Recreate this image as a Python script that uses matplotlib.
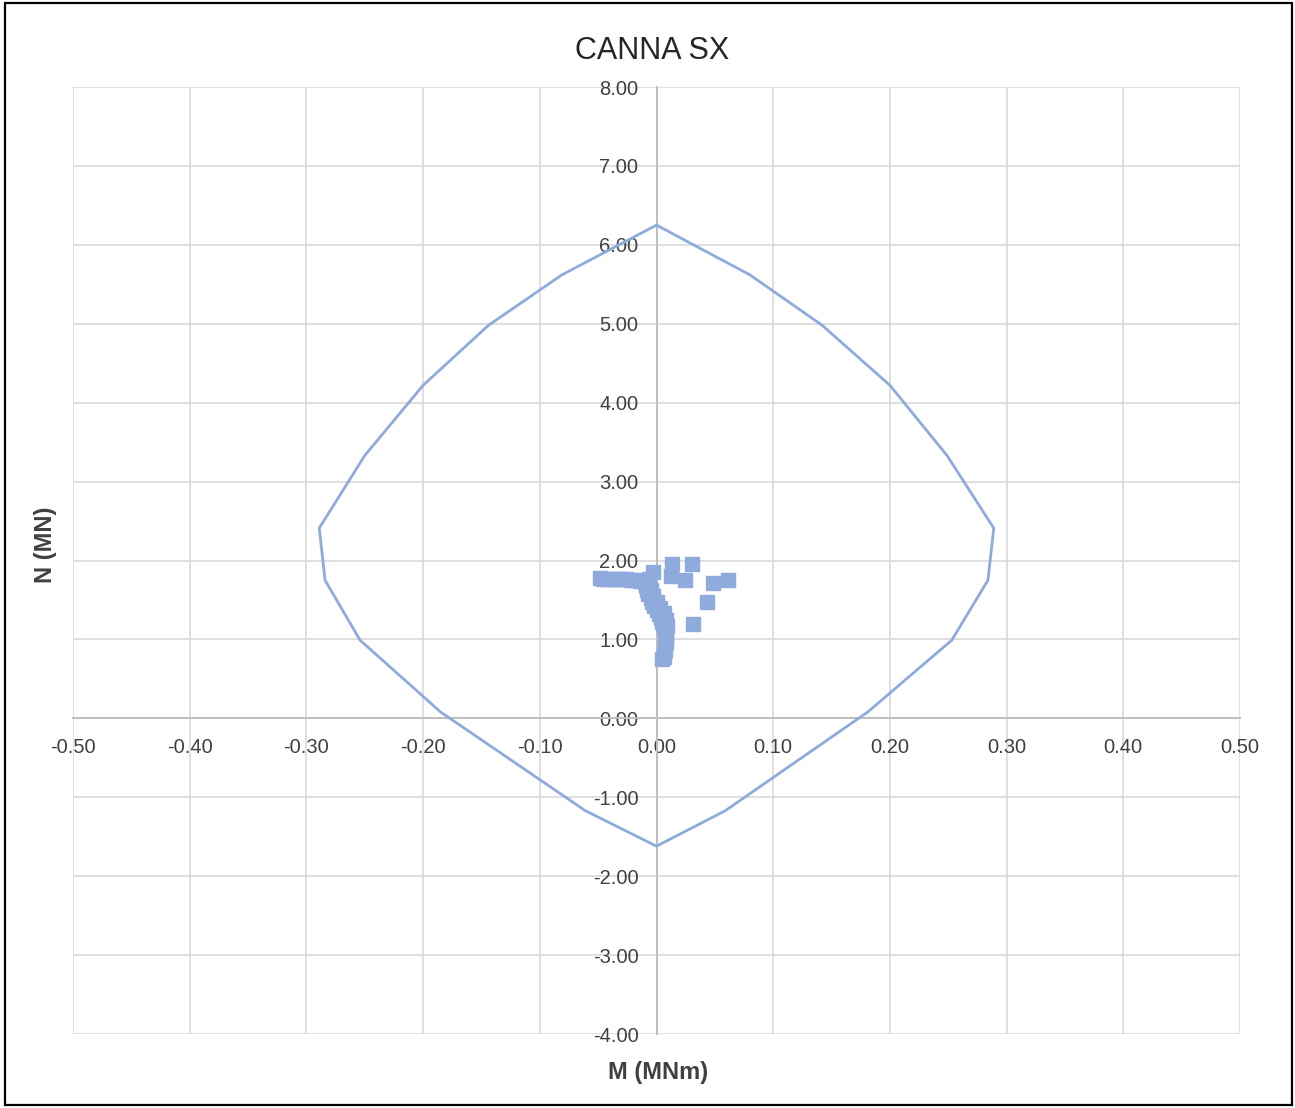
import matplotlib.pyplot as plt
from matplotlib.patches import Rectangle

# interaction domain envelope (M, N)
env_m = [0.0, 0.080, 0.142, 0.200, 0.249, 0.289, 0.284, 0.253, 0.181, 0.059, 0.0,
         -0.061, -0.185, -0.254, -0.284, -0.289, -0.250, -0.200, -0.144, -0.081, 0.0]
env_n = [6.25, 5.62, 4.98, 4.22, 3.33, 2.41, 1.75, 0.99, 0.08, -1.17, -1.62,
         -1.17, 0.08, 0.99, 1.75, 2.41, 3.33, 4.22, 4.98, 5.62, 6.25]

# load combinations (M, N)
pts_m = [-0.048, -0.046, -0.042, -0.038, -0.034, -0.030, -0.026, -0.022, -0.018, -0.014,
         -0.010, -0.006, -0.003,
         -0.009, -0.008, -0.007, -0.005, -0.004, -0.002, 0.000, 0.002, 0.004, 0.005,
         0.006, 0.007, 0.008, 0.008, 0.008, 0.007, 0.007, 0.006, 0.006, 0.005,
         -0.005, -0.003, 0.000, 0.003, 0.006, 0.008, 0.009,
         0.013, 0.030, 0.012, 0.024, 0.048, 0.061, 0.043, 0.031]
pts_n = [1.78, 1.77, 1.77, 1.77, 1.76, 1.76, 1.76, 1.75, 1.75, 1.74,
         1.73, 1.76, 1.86,
         1.68, 1.62, 1.57, 1.52, 1.47, 1.42, 1.37, 1.32, 1.27, 1.22,
         1.17, 1.12, 1.07, 1.02, 0.97, 0.92, 0.87, 0.82, 0.78, 0.75,
         1.62, 1.55, 1.47, 1.40, 1.33, 1.25, 1.17,
         1.96, 1.95, 1.80, 1.75, 1.72, 1.75, 1.47, 1.20]

x_ticks = [-0.5, -0.4, -0.3, -0.2, -0.1, 0.0, 0.1, 0.2, 0.3, 0.4, 0.5]
y_ticks = [-4, -3, -2, -1, 0, 1, 2, 3, 4, 5, 6, 7, 8]

plt.rcParams['font.family'] = ['Liberation Sans', 'DejaVu Sans']
blue = '#8faadc'
grey = '#d9d9d9'

fig = plt.figure(figsize=(12.95, 11.08), dpi=100)
ax = fig.add_axes([73 / 1295, 1 - 1034 / 1108, (1240 - 73) / 1295, (1034 - 87) / 1108])

ax.plot(env_m, env_n, color=blue, lw=2.0, zorder=3)
ax.plot(pts_m, pts_n, ls='none', marker='s', ms=9.5, color=blue, zorder=4)

ax.set_xlim(-0.5, 0.5)
ax.set_ylim(-4, 8)
ax.set_xticks(x_ticks)
ax.set_yticks(y_ticks)
ax.set_xticklabels([f'{v:.2f}' for v in x_ticks])
ax.set_yticklabels([f'{v:.2f}' for v in y_ticks])
ax.grid(True, color=grey, lw=1.2, zorder=0)
for ln in ax.get_xgridlines() + ax.get_ygridlines():
    ln.set_clip_on(False)

ax.spines['top'].set_visible(False)
ax.spines['right'].set_visible(False)
ax.spines['left'].set_position(('data', 0))
ax.spines['bottom'].set_position(('data', 0))
for s in ('left', 'bottom'):
    ax.spines[s].set_color('#bfbfbf')
    ax.spines[s].set_linewidth(1.4)
ax.tick_params(axis='both', length=0, labelsize=14.5, colors='#404040')
ax.tick_params(axis='y', pad=13)
ax.tick_params(axis='x', pad=14)

fig.text(652 / 1295, 1 - 51 / 1108, 'CANNA SX', ha='center', va='center', fontsize=22, color='#262626')
fig.text(658 / 1295, 1 - 1072 / 1108, 'M (MNm)', ha='center', va='center', fontsize=17,
         fontweight='bold', color='#404040')
fig.text(46 / 1295, 1 - 545 / 1108, 'N (MN)', ha='center', va='center', fontsize=17,
         fontweight='bold', color='#404040', rotation=90)

fig.patches.append(Rectangle((5 / 1295, 3 / 1108), 1287 / 1295, 1102 / 1108, transform=fig.transFigure,
                             fill=False, ec='black', lw=1.6))

fig.savefig('out.png', dpi=100)
